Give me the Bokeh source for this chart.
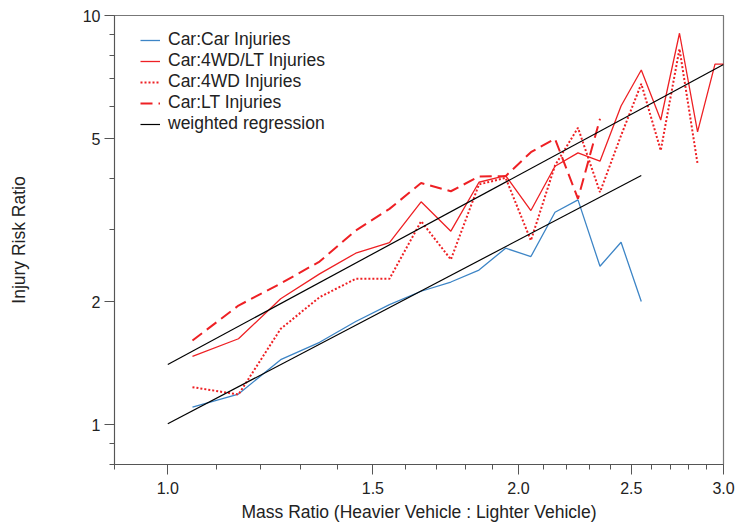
from bokeh.plotting import figure
from bokeh.models import FixedTicker, Legend, LegendItem, CustomJSTickFormatter
from bokeh.embed import file_html
from bokeh.resources import INLINE

# ---- data ----
mass_ratio = [1.05, 1.15, 1.25, 1.35, 1.45, 1.55, 1.65, 1.75, 1.85, 1.95,
              2.05, 2.15, 2.25, 2.35, 2.45, 2.55, 2.65, 2.75, 2.85, 2.95, 3.05]

car_car = [1.104, 1.189, 1.443, 1.591, 1.788, 1.967, 2.120, 2.233, 2.388, 2.701,
           2.577, 3.306, 3.545, 2.440, 2.793, 2.001]
car_4wd_lt = [1.469, 1.623, 2.032, 2.338, 2.626, 2.788, 3.506, 2.972, 3.914, 4.065,
              3.338, 4.283, 4.618, 4.406, 6.009, 7.358, 5.555, 9.05, 5.198, 7.61, 7.61]
car_4wd = [1.236, 1.186, 1.716, 2.050, 2.274, 2.274, 3.144, 2.534, 3.866, 4.013,
           2.82, 4.30, 5.316, 3.70, 5.09, 6.81, 4.68, 8.29, 4.342]
car_lt = [1.607, 1.956, 2.214, 2.506, 2.984, 3.37, 3.897, 3.721, 4.043, 4.05,
          4.634, 5.0, 3.566, 5.593]

reg_upper_x = [1.0, 3.0]
reg_upper_y = [1.404, 7.59]
reg_lower_x = [1.0, 2.55]
reg_lower_y = [1.006, 4.065]

x_ticks = [1.0, 1.5, 2.0, 2.5, 3.0]
x_tick_labels = ["1.0", "1.5", "2.0", "2.5", "3.0"]
x_minor = [0.9, 1.1, 1.2, 1.3, 1.4, 1.6, 1.7, 1.8, 1.9, 2.1, 2.2, 2.3, 2.4,
           2.6, 2.7, 2.8, 2.9]
y_ticks = [1, 2, 5, 10]
y_tick_labels = ["1", "2", "5", "10"]
y_minor = [0.8, 0.9, 3, 4, 6, 7, 8, 9]

labels = ["Car:Car Injuries", "Car:4WD/LT Injuries", "Car:4WD Injuries",
          "Car:LT Injuries", "weighted regression"]

BLUE = "#3d85c6"
RED = "#ee2024"
FONT = "Liberation Sans"

p = figure(width=736, height=524, x_axis_type="log", y_axis_type="log",
           x_range=(0.9, 3.0), y_range=(0.8, 10),
           output_backend="svg", toolbar_location=None,
           min_border_left=114, min_border_right=13, min_border_top=15,
           min_border_bottom=60)

p.xgrid.visible = False
p.ygrid.visible = False
p.outline_line_color = "#777777"
p.outline_line_width = 1.2
p.background_fill_color = "white"
p.border_fill_color = "white"

r_cc = p.line(mass_ratio[:len(car_car)], car_car, line_color=BLUE, line_width=1.3)
r_4lt = p.line(mass_ratio[:len(car_4wd_lt)], car_4wd_lt, line_color=RED, line_width=1.3)
r_4 = p.line(mass_ratio[:len(car_4wd)], car_4wd, line_color=RED, line_width=2,
             line_dash="2 2")
r_lt = p.line(mass_ratio[:len(car_lt)], car_lt, line_color=RED, line_width=2,
              line_dash="12 6")
r_reg = p.line(reg_upper_x, reg_upper_y, line_color="black", line_width=1.2)
p.line(reg_lower_x, reg_lower_y, line_color="black", line_width=1.2)

p.xaxis.ticker = FixedTicker(ticks=x_ticks, minor_ticks=x_minor)
p.yaxis.ticker = FixedTicker(ticks=y_ticks, minor_ticks=y_minor)
fmt_code = ("const i = tv.findIndex(t => Math.abs(t - tick) < 1e-9);"
            "return i >= 0 ? tl[i] : '';")
p.xaxis.formatter = CustomJSTickFormatter(args=dict(tv=x_ticks, tl=x_tick_labels),
                                          code=fmt_code)
p.yaxis.formatter = CustomJSTickFormatter(args=dict(tv=y_ticks, tl=y_tick_labels),
                                          code=fmt_code)

for ax in (p.xaxis[0], p.yaxis[0]):
    ax.axis_line_color = "#555555"
    ax.major_tick_line_color = "#555555"
    ax.minor_tick_line_color = "#555555"
    ax.major_tick_out = 10
    ax.major_tick_in = 0
    ax.minor_tick_out = 5
    ax.minor_tick_in = 0
    ax.major_label_text_font = FONT
    ax.major_label_text_font_size = "16px"
    ax.major_label_text_color = "#222222"
    ax.axis_label_text_font = FONT
    ax.axis_label_text_font_size = "17.5px"
    ax.axis_label_text_font_style = "normal"
    ax.axis_label_text_color = "#222222"

p.xaxis.axis_label = "Mass Ratio (Heavier Vehicle : Lighter Vehicle)"
p.xaxis.major_label_standoff = 7
p.xaxis.axis_label_standoff = 5
p.yaxis.axis_label = "Injury Risk Ratio"
p.yaxis.major_label_standoff = 4
p.yaxis.axis_label_standoff = 51

legend = Legend(items=[LegendItem(label=labels[0], renderers=[r_cc]),
                       LegendItem(label=labels[1], renderers=[r_4lt]),
                       LegendItem(label=labels[2], renderers=[r_4]),
                       LegendItem(label=labels[3], renderers=[r_lt]),
                       LegendItem(label=labels[4], renderers=[r_reg])],
                location=(26, 330))
legend.border_line_color = None
legend.background_fill_alpha = 0
legend.padding = 0
legend.margin = 0
legend.spacing = 0
legend.glyph_width = 20
legend.glyph_height = 20
legend.label_height = 20
legend.label_standoff = 8
legend.label_text_font = FONT
legend.label_text_font_size = "17.5px"
legend.label_text_color = "#222222"
p.add_layout(legend)

open("out.html", "w").write(file_html(p, INLINE))
